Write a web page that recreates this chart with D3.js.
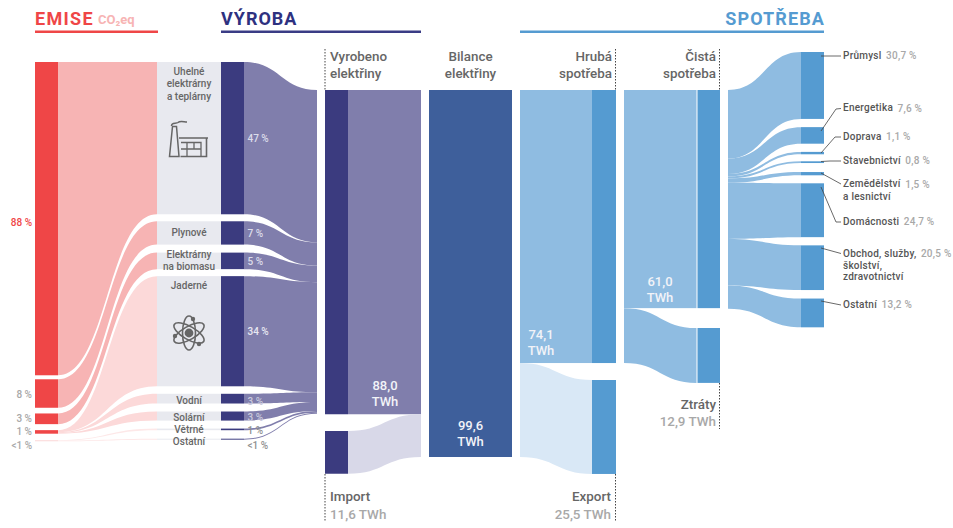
<!DOCTYPE html>
<html>
<head>
<meta charset="utf-8">
<script src="https://cdn.jsdelivr.net/npm/d3@7"></script>
<style>
html, body { margin: 0; padding: 0; background: #fff; }
svg { display: block; }
text { font-family: Roboto, sans-serif; }
</style>
</head>
<body>
<div id="chart"></div>
<script>
// sources
var sourceKeys = ["coal", "gas", "biomass", "nuclear", "hydro", "solar", "wind", "other"];
var sourceLabels = [["Uhelné", "elektrárny", "a teplárny"], ["Plynové"], ["Elektrárny", "na biomasu"], ["Jaderné"], ["Vodní"], ["Solární"], ["Větrné"], ["Ostatní"]];
var sourceShares = [47, 7.2, 5.1, 34, 3, 2.8, 0.5, 0.3];
var sourceShareLabels = ["47 %", "7 %", "5 %", "34 %", "3 %", "3 %", "1 %", "<1 %"];
// share of emissions by source; the last groups are only hairlines in the original
var emissionShares = [88, 8, 3, 0.6, 0.2, 0.2, 0.1, 0.2];
var emissionLabels = ["88 %", "8 %", "3 %", "1 %", "<1 %"];

// balance, TWh
var generated = 88.0;
var imported = 11.6;
var balance = 99.6;
var grossUse = 74.1;
var exported = 25.5;
var netUse = 61.0;
var losses = 12.9;
// net use and losses as tall as they are drawn in the original
var netDrawn = [59.2, 14.9];

// sectors
var sectorNames = [["Průmysl"], ["Energetika"], ["Doprava"], ["Stavebnictví"], ["Zemědělství", "a lesnictví"], ["Domácnosti"], ["Obchod, služby,", "školství,", "zdravotnictví"], ["Ostatní"]];
var sectorShares = [30.7, 7.6, 1.1, 0.8, 1.5, 24.7, 20.5, 13.2];
var sectorLeftShares = [31.5, 7.0, 1.15, 0.9, 2.05, 25.7, 21.4, 10.7];

var width = 953, height = 528;
var svg = d3.select("#chart").append("svg").attr("width", width).attr("height", height);

var twh = d3.scaleLinear().domain([0, balance]).range([0, 367]);
var prodPx = d3.scaleLinear().domain([0, 100]).range([0, 324]);
var emisPx = d3.scaleLinear().domain([0, 100]).range([0, 356]);
var sectPx = d3.scaleLinear().domain([0, 100]).range([0, 218]);
var top0 = 62, top1 = 90;

var RED = "#ef4647", PINK = "#f7b4b4", PALE = "#fcd9d9", PALER = "#fde8e8";
var NAVY = "#3b3b7f", PURPLE = "#807eac", LILAC = "#d8d8e8", PANEL = "#e8e9ef";
var BALANCE = "#3e5f9b", BLUE = "#559bd1", SKY = "#8fbce1", ICE = "#d9e8f6";
var DARKTXT = "#666", GREYTXT = "#a8a8a8";

// turns values into [y0, y1] bands, gaps are pixels after each value
function stack(values, px, start, gaps) {
	var y = start;
	return values.map(function(v, i) {
		var band = [y, y + px(v)];
		y = band[1] + (gaps ? gaps[i] || 0 : 0);
		return band;
	});
}

function ribbon(x0, x1, a, b) {
	var p = d3.path(), m = (x0 + x1) / 2;
	p.moveTo(x0, a[0]);
	p.bezierCurveTo(m, a[0], m, b[0], x1, b[0]);
	p.lineTo(x1, b[1]);
	p.bezierCurveTo(m, b[1], m, a[1], x0, a[1]);
	p.closePath();
	return p.toString();
}

function rect(x0, x1, band, fill) {
	svg.append("rect").attr("x", x0).attr("y", band[0]).attr("width", x1 - x0).attr("height", band[1] - band[0]).attr("fill", fill);
}

function label(x, y, str, size, fill, anchor, weight) {
	return svg.append("text").attr("x", x).attr("y", y).attr("font-size", size).attr("fill", fill)
		.attr("text-anchor", anchor || "start").attr("font-weight", weight || 500)
		.attr("dominant-baseline", "middle").text(str);
}

// section titles
label(35, 20, "EMISE", 18, RED, "start", 700).attr("letter-spacing", 1.3);
label(98, 21, "CO₂eq", 13, PINK, "start", 700);
label(221, 20, "VÝROBA", 18, "#2e3180", "start", 700).attr("letter-spacing", 1);
label(825, 20, "SPOTŘEBA", 18, BLUE, "end", 700).attr("letter-spacing", 1.1);
rect(35, 158, [30.5, 33], RED);
rect(221, 421, [30.5, 33], "#3a3c85");
rect(520, 824, [30.5, 33], BLUE);

// emissions and production
var sourceBands = stack(sourceShares, prodPx, top0, [7, 8, 7, 7.5, 8, 8, 8.5]);
var emisBands = stack(emissionShares, emisPx, top0, [4, 5.7, 6, 0, 0, 6.5, 0]);
var outBands = stack(sourceShares, prodPx, top1);
var emisFill = [PINK, PINK, PINK, PALE, PALE, PALE, PALER, PALER];

svg.selectAll("path.emis").data(sourceKeys).join("path").attr("class", "emis")
	.attr("fill", function(d, i) { return emisFill[i]; })
	.attr("d", function(d, i) { return ribbon(58, 157, emisBands[i], sourceBands[i]); });

svg.selectAll("path.prod").data(sourceKeys).join("path").attr("class", "prod")
	.attr("fill", PURPLE)
	.attr("d", function(d, i) { return ribbon(244, 317, sourceBands[i], outBands[i]); });

sourceKeys.forEach(function(k, i) {
	rect(157, 221, sourceBands[i], PANEL);
	rect(221, 244, sourceBands[i], NAVY);
});

// red bars, the small groups share one bar
var redBands = [emisBands[0], emisBands[1], emisBands[2], [emisBands[3][0], emisBands[5][1]], [emisBands[6][0], emisBands[7][1]]];
redBands.forEach(function(b, i) { rect(35, 58, b, i == 4 ? PALE : RED); });

var emisLabelY = [223, 395, 419, 432.5, 446];
emissionLabels.forEach(function(t, i) {
	label(32, emisLabelY[i], t, 10, i == 0 ? RED : GREYTXT, "end");
});

var sourceLabelY = [[72, 84.5, 97], [233], [255.5, 267.5], [286], [401], [418], [430], [442]];
sourceLabels.forEach(function(lines, i) {
	lines.forEach(function(t, j) { label(189, sourceLabelY[i][j], t, 10, DARKTXT, "middle"); });
});

var shareY = [139, 234.5, 262, 332.5, 402, 418, 431.5, 446];
var shareFill = ["#dcdcea", "#dcdcea", "#dcdcea", "#e8e8f2", "#c9c9dc", "#c9c9dc", "#8f8f8f", "#8f8f8f"];
sourceShareLabels.forEach(function(t, i) {
	label(247.5, shareY[i], t, 10, shareFill[i]);
});

// coal plant icon
var icon = svg.append("g").attr("fill", "none").attr("stroke", "#666").attr("stroke-width", 1.5);
icon.append("path").attr("d", "M169.5 156.5 L172.5 126.5 L176.5 126.5 L179 156.5 Z M171.5 126 C171.5 122 176 124 178 122.5 C180 120.5 184 122 187 122");
icon.append("path").attr("stroke-width", 1.6).attr("d", "M179 138 L208 138 M180.5 156.5 L206.5 156.5 L206.5 138");
icon.append("path").attr("stroke-width", 1.3).attr("d", "M181 142.5 L201 142.5 L201 156.5 M181 149 L201 149 M187 142.5 L187 156.5 M194 142.5 L194 149");

// atom icon
var atom = svg.append("g").attr("transform", "translate(189,333)").attr("fill", "none").attr("stroke", "#666").attr("stroke-width", 1.6);
[0, 60, 120].forEach(function(a) {
	atom.append("ellipse").attr("rx", 6.5).attr("ry", 17).attr("transform", "rotate(" + a + ")");
});
atom.append("circle").attr("r", 4.4).attr("fill", "#666").attr("stroke", "none");
[[4, -14], [-14, 3], [10, 11]].forEach(function(c) {
	atom.append("circle").attr("cx", c[0]).attr("cy", c[1]).attr("r", 2.2).attr("fill", "#666").attr("stroke", "none");
});

// generated and imported
var genBand = [top1, top1 + twh(generated)];
var impBand = [431, 431 + twh(imported)];
var impEnd = [genBand[1], genBand[1] + twh(imported)];
rect(325, 348, genBand, NAVY);
rect(348, 421, genBand, PURPLE);
rect(325, 348, impBand, NAVY);
svg.append("path").attr("fill", LILAC).attr("d", ribbon(348, 421, impBand, impEnd));

// balance
var balBand = [top1, top1 + twh(balance)];
rect(429, 512, balBand, BALANCE);

// gross use and export
var grossBand = [top1, top1 + twh(grossUse)];
var expStart = [grossBand[1], grossBand[1] + twh(exported)];
var expBand = [380, 380 + twh(exported)];
rect(520, 592, grossBand, SKY);
rect(592, 616, grossBand, BLUE);
svg.append("path").attr("fill", ICE).attr("d", ribbon(520, 592, expStart, expBand));
rect(592, 616, expBand, BLUE);

// net use and losses
var netBands = stack(netDrawn, twh, top1);
var lossBand = [328, 328 + twh(netDrawn[1])];
rect(624, 696.5, netBands[0], SKY);
rect(697.5, 720, netBands[0], BLUE);
svg.append("path").attr("fill", SKY).attr("d", ribbon(624, 696.5, netBands[1], lossBand));
rect(697.5, 720, lossBand, BLUE);

// sectors
var sectLeft = stack(sectorLeftShares, sectPx, top1);
var sectRight = stack(sectorShares, sectPx, 52, [8.2, 8.2, 7, 9, 8, 8.2, 8.5]);
svg.selectAll("path.sect").data(sectorShares).join("path").attr("class", "sect")
	.attr("fill", SKY)
	.attr("d", function(d, i) { return ribbon(728, 801, sectLeft[i], sectRight[i]); });
sectorShares.forEach(function(v, i) { rect(801, 824, sectRight[i], BLUE); });

// leader lines
var leaders = [
	[[821, 56], [841, 56]],
	[[821, 131], [836, 109], [841, 108.5]],
	[[821, 153], [835, 137], [841, 137]],
	[[821, 161.5], [830, 161], [841, 161]],
	[[821, 173], [841, 184]],
	[[821, 187], [836, 222], [841, 222]],
	[[821, 248], [841, 253.5]],
	[[821, 301], [841, 305]]
];
var leaderLine = d3.line();
svg.selectAll("path.lead").data(leaders).join("path").attr("class", "lead")
	.attr("fill", "none").attr("stroke", "#444").attr("stroke-width", 0.8).attr("d", leaderLine);

var sectorY = [[56], [108.5], [137], [161], [184.5, 197], [222], [254, 266, 277.5], [305]];
sectorNames.forEach(function(lines, i) {
	lines.forEach(function(t, j) {
		var txt = label(843, sectorY[i][j], t, 10, "#555", "start", 500).attr("letter-spacing", 0.25);
		if (j == 0) {
			txt.append("tspan").attr("dx", 4.5).attr("fill", GREYTXT).text(String(sectorShares[i]).replace(".", ",") + " %");
		}
	});
});

// dotted guides
var guides = [[325, 49, 90], [615.5, 49, 90], [719.5, 49, 90], [325, 474, 521], [615.5, 474, 521], [719.5, 383, 429]];
svg.selectAll("line.guide").data(guides).join("line").attr("class", "guide")
	.attr("x1", function(d) { return d[0]; }).attr("x2", function(d) { return d[0]; })
	.attr("y1", function(d) { return d[1]; }).attr("y2", function(d) { return d[2]; })
	.attr("stroke", "#444").attr("stroke-width", 1).attr("stroke-dasharray", "1.5 1.5");

// column heads
label(330, 57, "Vyrobeno", 13.4, DARKTXT);
label(330, 74, "elektřiny", 13.4, DARKTXT);
label(470.5, 57, "Bilance", 13.4, DARKTXT, "middle");
label(470.5, 74, "elektřiny", 13.4, DARKTXT, "middle");
label(612, 57, "Hrubá", 13.4, DARKTXT, "end");
label(612, 74, "spotřeba", 13.4, DARKTXT, "end");
label(716, 57, "Čistá", 13.4, DARKTXT, "end");
label(716, 74, "spotřeba", 13.4, DARKTXT, "end");

function fmt(v) { return v.toFixed(1).replace(".", ","); }

// values inside the bars
[[generated, 385, 387], [balance, 470.5, 427], [grossUse, 541, 336], [netUse, 660, 283]].forEach(function(d) {
	label(d[1], d[2], fmt(d[0]), 13, "#f2f3f8", "middle");
	label(d[1], d[2] + 15.5, "TWh", 13, "#f2f3f8", "middle");
});

// values below the bars
label(330, 497, "Import", 13.4, DARKTXT);
label(330, 515.5, fmt(imported) + " TWh", 13.4, GREYTXT);
label(611, 497, "Export", 13.4, DARKTXT, "end");
label(611, 515.5, fmt(exported) + " TWh", 13.4, GREYTXT, "end");
label(716, 405, "Ztráty", 13.4, DARKTXT, "end");
label(716, 422.5, fmt(losses) + " TWh", 13.4, GREYTXT, "end");
</script>
</body>
</html>
